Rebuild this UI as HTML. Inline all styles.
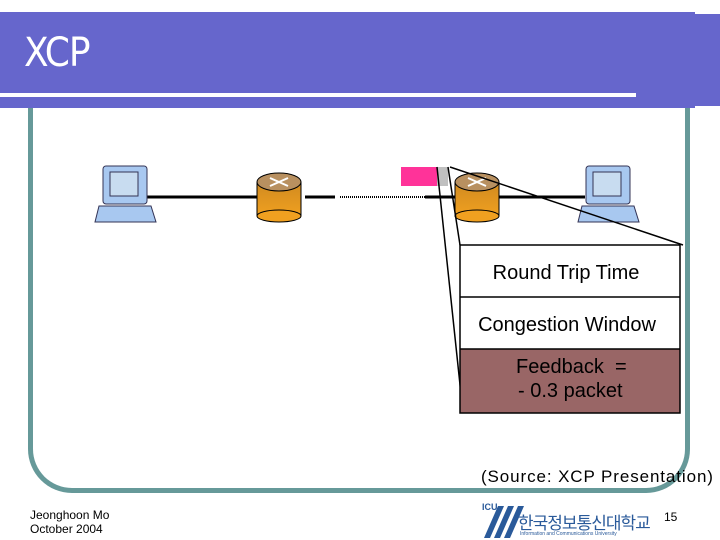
<!DOCTYPE html>
<html><head><style>
body{margin:0;width:720px;height:540px;background:#fff;position:relative;overflow:hidden;font-family:"Liberation Sans","Noto Sans CJK KR",sans-serif}
.a{position:absolute}
</style></head><body>
<div class="a" style="left:0;top:12px;width:695px;height:96px;background:#6666cc"></div>
<div class="a" style="left:695px;top:14px;width:25px;height:92px;background:#6666cc"></div>
<div class="a" style="left:0;top:93px;width:636px;height:4px;background:#fff"></div>
<div class="a" style="left:24px;top:30px;color:#fff;font-size:40px;letter-spacing:-1px;font-family:'DejaVu Sans Condensed','Liberation Sans',sans-serif">XCP</div>
<div class="a" style="left:28px;top:108px;width:652px;height:380px;border:5px solid #669999;border-top:none;border-radius:0 0 44px 44px"></div>
<svg class="a" style="left:0;top:0" width="720" height="540">
<defs><linearGradient id="g" x1="0" y1="0" x2="0" y2="1"><stop offset="0" stop-color="#d08a20"/><stop offset="1" stop-color="#f0a020"/></linearGradient></defs>
<line x1="145" y1="197" x2="258" y2="197" stroke="#000" stroke-width="3"/>
<line x1="305" y1="197" x2="335" y2="197" stroke="#000" stroke-width="3"/>
<line x1="340" y1="197" x2="425" y2="197" stroke="#000" stroke-width="2" stroke-dasharray="1,1"/>
<line x1="425" y1="197" x2="458" y2="197" stroke="#000" stroke-width="3"/>
<line x1="498" y1="197" x2="585" y2="197" stroke="#000" stroke-width="3"/>
<g>
<rect x="257" y="182" width="44" height="34" fill="url(#g)" stroke="#000"/>
<ellipse cx="279" cy="216" rx="22" ry="6" fill="#f0a020" stroke="#000"/>
<ellipse cx="279" cy="182" rx="22" ry="9" fill="#b89060" stroke="#000"/>
<path d="M270 178l18 8M288 178l-18 8" stroke="#fff" stroke-width="2"/>
</g>
<g>
<rect x="455" y="182" width="44" height="34" fill="url(#g)" stroke="#000"/>
<ellipse cx="477" cy="216" rx="22" ry="6" fill="#f0a020" stroke="#000"/>
<ellipse cx="477" cy="182" rx="22" ry="9" fill="#b89060" stroke="#000"/>
<path d="M468 178l18 8M486 178l-18 8" stroke="#fff" stroke-width="2"/>
</g>
<g fill="#a8c8f0" stroke="#335">
<rect x="103" y="166" width="44" height="38" rx="3"/><rect x="110" y="172" width="28" height="24" fill="#c8dcf0"/>
<path d="M99 206h52l5 16h-61z"/>
<rect x="586" y="166" width="44" height="38" rx="3"/><rect x="593" y="172" width="28" height="24" fill="#c8dcf0"/>
<path d="M582 206h52l5 16h-61z"/>
</g>
<rect x="401" y="167" width="36" height="19" fill="#ff3399"/>
<rect x="437" y="167" width="11" height="19" fill="#c0c0c0"/>
<line x1="437" y1="167" x2="463" y2="413" stroke="#000" stroke-width="1.5"/>
<line x1="448" y1="167" x2="460" y2="245" stroke="#000" stroke-width="1.5"/>
<line x1="450" y1="167" x2="683" y2="245" stroke="#000" stroke-width="1.5"/>
<rect x="460" y="349" width="220" height="64" fill="#996666"/>
<rect x="460" y="245" width="220" height="168" fill="none" stroke="#000" stroke-width="1.5"/>
<line x1="460" y1="297" x2="680" y2="297" stroke="#000" stroke-width="1.5"/>
<line x1="460" y1="349" x2="680" y2="349" stroke="#000" stroke-width="1.5"/>
<text x="566" y="279" font-size="20" text-anchor="middle" font-family="Liberation Sans">Round Trip Time</text>
<text x="567" y="331" font-size="20" text-anchor="middle" font-family="Liberation Sans">Congestion Window</text>
<text x="516" y="373" font-size="20" font-family="Liberation Sans" xml:space="preserve">Feedback  =</text>
<text x="518" y="397" font-size="20" font-family="Liberation Sans">- 0.3 packet</text>
<g fill="#2a5a9a"><path d="M484 538l14-32h6l-14 32z"/><path d="M494 538l14-32h6l-14 32z"/><path d="M504 538l14-32h6l-14 32z"/></g>
</svg>
<div class="a" style="left:481px;top:467px;font-size:17px;letter-spacing:0.9px">(Source: XCP Presentation)</div>
<div class="a" style="left:30px;top:508px;font-size:12px;line-height:14px">Jeonghoon Mo<br>October 2004</div>
<div class="a" style="left:482px;top:502px;font-size:9px;color:#2a5a9a;font-weight:bold">ICU</div>
<div class="a" style="left:518px;top:509px;font-size:17px;color:#2a5a9a;letter-spacing:-1px">한국정보통신대학교</div>
<div class="a" style="left:520px;top:531px;font-size:5px;color:#2a5a9a">Information and Communications University</div>
<div class="a" style="left:664px;top:510px;font-size:12px">15</div>
</body></html>
